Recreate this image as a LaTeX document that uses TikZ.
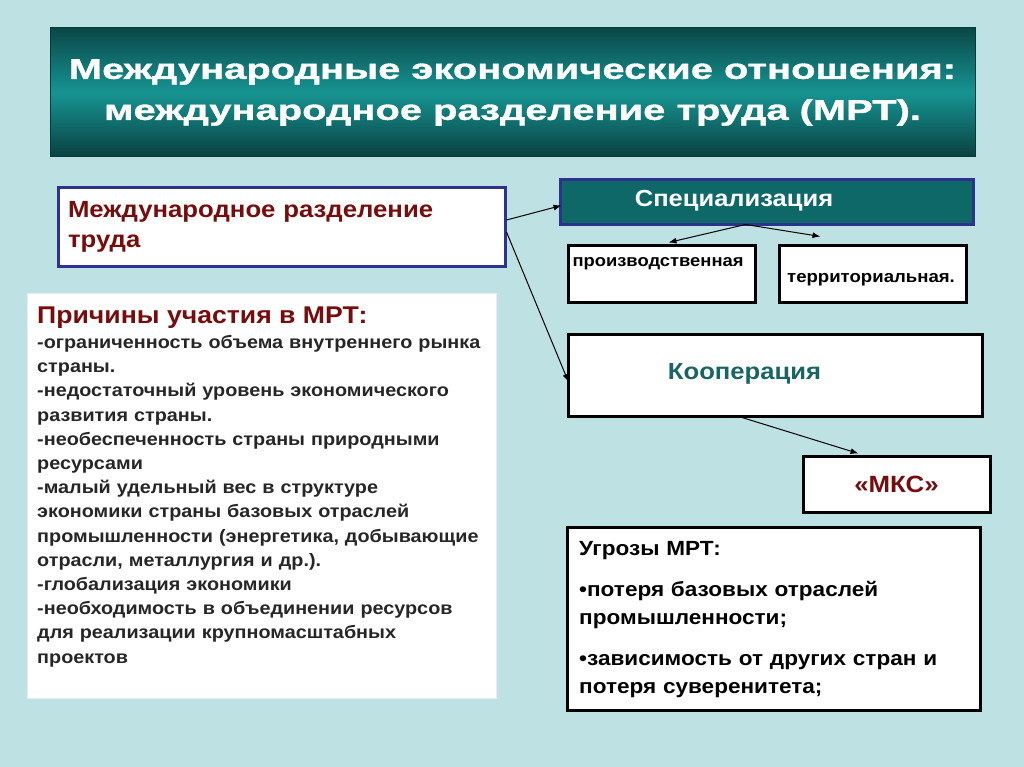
\documentclass[tikz,border=0pt]{standalone}
\usepackage{fontspec}
\setmainfont{Liberation Sans}
\newfontfamily\headfont[FakeStretch=1.4,FakeBold=1.2]{Liberation Sans}
\newfontfamily\widefont[FakeStretch=1.1]{Liberation Sans}
\usepackage{xcolor}
\usetikzlibrary{arrows.meta, calc, positioning}
\definecolor{bgcol}{RGB}{190,225,227}
\definecolor{tealdark}{RGB}{10,72,72}
\definecolor{tealmid}{RGB}{22,148,146}
\definecolor{specfill}{RGB}{14,104,104}
\definecolor{navyline}{RGB}{45,50,140}
\definecolor{darkred}{RGB}{120,12,12}
\definecolor{tealtext}{RGB}{25,100,100}

\begin{document}
\begin{tikzpicture}[
  x=1pt, y=-1pt,
  titlebox/.style={draw=tealdark!80!black, line width=1pt, inner sep=0pt,
                   top color=tealdark, bottom color=tealdark!90!black, middle color=tealmid,
                   align=center, text=white, font=\headfont\bfseries\fontsize{28.5}{41}\selectfont},
  bluebox/.style={draw=navyline, line width=3pt, fill=white, inner ysep=0pt},
  blackbox/.style={draw=black, line width=3pt, fill=white, inner sep=0pt},
  arr/.style={-{Latex[length=8pt,width=6pt]}, line width=1pt}
]
  \fill[bgcol] (0,0) rectangle (1024,767);

  \node[titlebox, minimum width=925pt, minimum height=129pt] (title) at (512.5,92.5)
    {Международные экономические отношения:\\международное разделение труда (МРТ).};

  \node[bluebox, minimum width=447pt, minimum height=78pt, inner xsep=10pt,
        text width=427pt, align=left, text=darkred,
        font=\widefont\bfseries\fontsize{23.4}{30}\selectfont] (mrt) at (281.5,227)
    {Международное разделение\\труда};

  \node[bluebox, fill=specfill, minimum width=413pt, minimum height=45pt] (spec) at (766.5,202.5) {};
  \node[text=white, font=\widefont\bfseries\fontsize{23.2}{26}\selectfont] (spectext) at (734,201) {Специализация};

  \node[blackbox, minimum width=187pt, minimum height=57pt] (prod) at (661.5,273.5) {};
  \node[font=\widefont\bfseries\fontsize{16.7}{18}\selectfont] (prodtext) at (658,264) {производственная};
  \node[blackbox, minimum width=187pt, minimum height=57pt] (terr) at (872.5,273.5) {};
  \node[font=\widefont\bfseries\fontsize{16.9}{18}\selectfont] (terrtext) at (871,280) {территориальная.};

  \node[blackbox, minimum width=414pt, minimum height=82pt] (coop) at (775,375) {};
  \node[text=tealtext, font=\widefont\bfseries\fontsize{23.3}{26}\selectfont] (cooptext) at (744.5,374) {Кооперация};

  \node[blackbox, minimum width=187pt, minimum height=56pt, text=darkred,
        font=\widefont\bfseries\fontsize{23.5}{26}\selectfont] (mks) at (896.5,484) {«МКС»};

  % reasons
  \node[draw=white!85!gray, line width=1pt, fill=white, inner sep=0pt,
        minimum width=469pt, minimum height=405pt] (reasons) at (261.5,495.5) {};
  \node[anchor=north west, inner sep=0pt, text=darkred,
        font=\widefont\bfseries\fontsize{24.2}{26}\selectfont] (reasonshead) at (37,307) {Причины участия в МРТ:};
  \node[anchor=north west, inner sep=0pt, text width=455pt, align=left, text=black!85,
        font=\widefont\bfseries\fontsize{18}{24.2}\selectfont] (reasonslist) at (37,335)
    {-ограниченность объема внутреннего рынка\\
     страны.\\
     -недостаточный уровень экономического\\
     развития страны.\\
     -необеспеченность страны природными\\
     ресурсами\\
     -малый удельный вес в структуре\\
     экономики страны базовых отраслей\\
     промышленности (энергетика, добывающие\\
     отрасли, металлургия и др.).\\
     -глобализация экономики\\
     -необходимость в объединении ресурсов\\
     для реализации крупномасштабных\\
     проектов};

  % threats
  \node[blackbox, minimum width=413pt, minimum height=183pt] (threats) at (773.5,618.5) {};
  \node[anchor=north west, inner sep=0pt, text width=395pt, align=left,
        font=\widefont\bfseries\fontsize{20.5}{28}\selectfont] (threatstext) at (579,541)
    {Угрозы МРТ:\\[13pt]
     •потеря базовых отраслей\\
     промышленности;\\[13pt]
     •зависимость от других стран и\\
     потеря суверенитета;};

  \draw[arr] ([yshift=7pt]mrt.east) -- ([xshift=3pt,yshift=-3pt]spec.west);
  \draw[arr] ([yshift=-5pt]mrt.east) -- ([xshift=2pt,yshift=-7pt]coop.west);
  \draw[arr] ([xshift=-21pt,yshift=2pt]spec.south) -- ([xshift=7pt,yshift=1pt]prod.north);
  \draw[arr] ([xshift=-21pt,yshift=2pt]spec.south) -- ([xshift=-52pt,yshift=7pt]terr.north);
  \draw[arr] ([xshift=-33pt]coop.south) -- ([xshift=-38pt,yshift=1pt]mks.north);
\end{tikzpicture}
\end{document}
